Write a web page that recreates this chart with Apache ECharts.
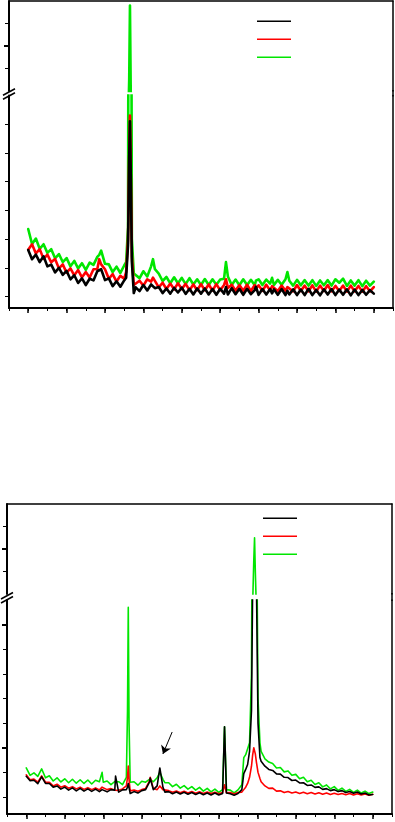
<!DOCTYPE html>
<html><head><meta charset="utf-8">
<script src="https://cdn.jsdelivr.net/npm/echarts@6/dist/echarts.min.js"></script>
<style>html,body{margin:0;padding:0;background:#fff}#c{width:395px;height:822px}</style>
</head><body><div id="c"></div><script>
// ---------- data ----------
const SERIES_NAMES = ['S1', 'S2', 'S3'];           // black, red, green (legend order)
const SERIES_COLORS = ['#000000', '#ff0000', '#00e600'];

// x positions (arbitrary units, axis 0..100)
const X_MIN = 0, X_MAX = 100, X_MINOR_STEP = 5;
const X_MAJOR_TICKS = [5, 15, 25, 35, 45, 55, 65, 75, 85, 95];

// ----- panel 1 -----
const P1_X = [
  5, 6, 7, 8, 9, 10, 11, 12, 13, 14,
  15, 16, 17, 18, 19, 20, 21, 22, 23, 23.5,
  24, 25, 26, 27, 28, 29, 30, 30.5,
  31, 31.3, 31.5, 31.7, 32, 32.5,
  33, 34, 35, 36, 37, 37.5, 38, 39, 40, 41,
  42, 43, 44, 45, 46, 47, 48, 49, 50, 51,
  52, 53, 54, 55, 56, 56.5, 57, 58, 59, 60,
  61, 62, 63, 64, 64.3, 65, 66, 67, 68, 68.5,
  69, 70, 71, 72, 72.5, 73, 74, 75, 76, 77,
  78, 79, 80, 81, 82, 83, 84, 85, 86, 87,
  88, 89, 90, 91, 92, 93, 94, 95
];
const P1_BLACK = [
  1.62, 1.30, 1.46, 1.20, 1.40, 1.05, 1.11, 0.84, 1.00, 0.75,
  0.89, 0.60, 0.74, 0.47, 0.63, 0.40, 0.62, 0.56, 0.88, 0.90,
  0.95, 0.57, 0.63, 0.36, 0.53, 0.34, 0.56, 0.65,
  1.8, 4.8, 6.1, 4.3, 1.2, 0.12,
  0.32, 0.19, 0.40, 0.21, 0.42, 0.42, 0.29, 0.33, 0.12, 0.28,
  0.10, 0.30, 0.14, 0.31, 0.09, 0.27, 0.07, 0.28, 0.10, 0.28,
  0.07, 0.26, 0.06, 0.27, 0.10, 0.33, 0.07, 0.29, 0.08, 0.27,
  0.06, 0.27, 0.08, 0.22, 0.34, 0.06, 0.26, 0.07, 0.26, 0.11,
  0.25, 0.06, 0.26, 0.05, 0.20, 0.07, 0.25, 0.05, 0.24, 0.05,
  0.27, 0.05, 0.23, 0.04, 0.25, 0.07, 0.26, 0.05, 0.24, 0.06,
  0.25, 0.04, 0.24, 0.05, 0.23, 0.06, 0.22, 0.10
];
const P1_RED = [
  1.63, 1.82, 1.50, 1.65, 1.31, 1.46, 1.19, 1.31, 0.98, 1.12,
  0.83, 0.98, 0.74, 0.92, 0.67, 0.85, 0.66, 0.95, 0.96, 1.30,
  1.12, 0.95, 0.62, 0.78, 0.52, 0.72, 0.62, 0.85,
  2.0, 5.0, 6.3, 4.5, 1.4, 0.4,
  0.34, 0.55, 0.38, 0.60, 0.52, 0.66, 0.61, 0.32, 0.48, 0.26,
  0.45, 0.25, 0.46, 0.26, 0.44, 0.22, 0.42, 0.22, 0.43, 0.22,
  0.42, 0.21, 0.43, 0.22, 0.40, 0.60, 0.30, 0.41, 0.20, 0.40,
  0.20, 0.41, 0.19, 0.40, 0.27, 0.39, 0.20, 0.41, 0.21, 0.36,
  0.40, 0.19, 0.38, 0.20, 0.33, 0.39, 0.18, 0.40, 0.19, 0.38,
  0.18, 0.39, 0.17, 0.38, 0.19, 0.40, 0.18, 0.37, 0.19, 0.38,
  0.17, 0.38, 0.18, 0.37, 0.17, 0.36, 0.18, 0.33
];
const P1_GREEN = [
  2.35, 1.83, 2.02, 1.66, 1.82, 1.52, 1.65, 1.33, 1.48, 1.20,
  1.34, 1.05, 1.24, 0.98, 1.16, 0.93, 1.18, 1.10, 1.38, 1.45,
  1.60, 1.14, 1.12, 0.85, 1.04, 0.82, 1.08, 1.20,
  2.4, 25, 58, 20, 2.0, 0.8,
  0.85, 0.64, 0.88, 0.70, 1.05, 1.30, 0.95, 0.80, 0.54, 0.68,
  0.46, 0.67, 0.46, 0.65, 0.43, 0.64, 0.42, 0.60, 0.40, 0.61,
  0.40, 0.60, 0.41, 0.59, 0.62, 1.20, 0.70, 0.40, 0.59, 0.39,
  0.60, 0.40, 0.58, 0.39, 0.55, 0.60, 0.40, 0.59, 0.45, 0.65,
  0.40, 0.58, 0.41, 0.60, 0.85, 0.55, 0.38, 0.58, 0.39, 0.57,
  0.38, 0.57, 0.37, 0.56, 0.39, 0.57, 0.38, 0.60, 0.48, 0.62,
  0.37, 0.56, 0.38, 0.57, 0.36, 0.55, 0.38, 0.52
];

// ----- panel 2 -----
const P2_X = [
  5, 6, 7, 8, 9, 10, 11, 12, 13, 14,
  15, 16, 17, 18, 19, 20, 21, 22, 23, 24,
  24.7, 25, 26, 27, 28, 28.2, 29, 30, 31, 31.3,
  31.5, 31.7, 32, 33, 34, 35, 36, 37, 37.2, 38,
  39, 39.7, 40.5, 41, 42, 43, 44, 45, 46, 47,
  48, 49, 50, 51, 52, 53, 54, 55, 56, 56.5,
  57, 58, 59, 60, 61, 61.5, 62, 62.5, 63, 63.5,
  63.8, 64.1, 64.3, 64.5, 64.8, 65.2, 65.7, 66, 67, 68,
  69, 70, 71, 72, 73, 74, 75, 76, 77, 78,
  79, 80, 81, 82, 83, 84, 85, 86, 87, 88,
  89, 90, 91, 92, 93, 94, 95
];
const P2_BLACK = [
  0.84, 0.66, 0.68, 0.54, 0.82, 0.55, 0.55, 0.40, 0.45, 0.32,
  0.40, 0.28, 0.37, 0.25, 0.35, 0.24, 0.33, 0.23, 0.32, 0.22,
  0.30, 0.32, 0.21, 0.30, 0.28, 0.85, 0.20, 0.29, 0.30, 0.40,
  0.55, 0.38, 0.14, 0.22, 0.16, 0.26, 0.30, 0.60, 0.77, 0.30,
  0.45, 1.18, 0.40, 0.20, 0.22, 0.13, 0.20, 0.12, 0.19, 0.11,
  0.18, 0.10, 0.17, 0.09, 0.16, 0.08, 0.16, 0.08, 0.14, 2.85,
  0.16, 0.13, 0.07, 0.14, 0.30, 0.95, 1.12, 1.32, 1.85, 3.5,
  8.5, 13, 14, 12, 8.5, 3.0, 1.6, 1.45, 1.25, 1.12,
  1.08, 0.94, 0.93, 0.80, 0.79, 0.67, 0.69, 0.57, 0.58, 0.47,
  0.49, 0.39, 0.41, 0.31, 0.34, 0.26, 0.30, 0.22, 0.26, 0.18,
  0.22, 0.15, 0.20, 0.12, 0.16, 0.08, 0.10
];
const P2_RED = [
  0.90, 0.70, 0.73, 0.60, 0.86, 0.60, 0.60, 0.45, 0.52, 0.40,
  0.46, 0.36, 0.42, 0.33, 0.40, 0.31, 0.38, 0.30, 0.37, 0.29,
  0.40, 0.35, 0.30, 0.34, 0.28, 0.33, 0.27, 0.33, 0.45, 0.80,
  1.26, 0.70, 0.25, 0.28, 0.23, 0.30, 0.35, 0.65, 0.80, 0.35,
  0.30, 0.45, 0.30, 0.25, 0.26, 0.19, 0.24, 0.17, 0.23, 0.16,
  0.22, 0.15, 0.21, 0.14, 0.20, 0.14, 0.19, 0.13, 0.18, 0.50,
  0.17, 0.18, 0.12, 0.18, 0.20, 0.30, 0.40, 0.55, 0.80, 1.25,
  1.70, 2.00, 1.95, 1.75, 1.40, 1.00, 0.75, 0.62, 0.45, 0.35,
  0.36, 0.24, 0.25, 0.18, 0.22, 0.16, 0.20, 0.14, 0.19, 0.13,
  0.18, 0.12, 0.17, 0.11, 0.16, 0.10, 0.15, 0.10, 0.14, 0.09,
  0.14, 0.08, 0.13, 0.08, 0.12, 0.07, 0.11
];
const P2_GREEN = [
  1.18, 0.88, 0.98, 0.84, 1.14, 0.78, 0.86, 0.65, 0.78, 0.61,
  0.74, 0.58, 0.72, 0.56, 0.70, 0.55, 0.69, 0.53, 0.68, 0.62,
  1.00, 0.60, 0.65, 0.50, 0.63, 0.55, 0.62, 0.50, 0.80, 3.50,
  7.70, 3.00, 0.60, 0.62, 0.48, 0.64, 0.60, 0.72, 0.74, 0.62,
  0.78, 1.00, 0.72, 0.58, 0.58, 0.42, 0.52, 0.36, 0.46, 0.32,
  0.42, 0.28, 0.39, 0.24, 0.35, 0.21, 0.32, 0.19, 0.30, 2.85,
  0.30, 0.28, 0.17, 0.29, 0.50, 1.60, 1.72, 1.75, 2.20, 5.00,
  15, 35, 45, 30, 12, 4.0, 2.2, 1.85, 1.55, 1.42,
  1.36, 1.18, 1.20, 1.02, 1.06, 0.88, 0.92, 0.74, 0.80, 0.62,
  0.68, 0.51, 0.58, 0.41, 0.49, 0.33, 0.42, 0.27, 0.36, 0.23,
  0.31, 0.19, 0.28, 0.16, 0.24, 0.14, 0.20
];
// arrow annotation in panel 2: [from, to] in data units
const ARROW_P2 = [[42.9, 2.64], [40.5, 1.75]];

// y scales of the broken axes
const UPPER_RANGE = [20, 60];
const UPPER_TICKS = [30, 40, 50];
const UPPER_MAJOR_TICKS = [40];
const P1_LOWER_RANGE = [-0.4, 7];
const P1_LOWER_TICKS = [0, 1, 2, 3, 4, 5, 6];
const P2_LOWER_RANGE = [-0.69, 8];
const P2_LOWER_TICKS = [0, 1, 2, 3, 4, 5, 6, 7];
const P2_LOWER_MAJOR_TICKS = [2, 7];

// sanity check
[[P1_X, P1_BLACK, P1_RED, P1_GREEN], [P2_X, P2_BLACK, P2_RED, P2_GREEN]].forEach((g, k) => {
  g.forEach((a, i) => { if (a.length !== g[0].length) throw new Error('len mismatch panel ' + (k + 1) + ' arr ' + i + ': ' + a.length + ' vs ' + g[0].length); });
});

// ---------- layout ----------
const W = 395;
const L1 = { left: 9, right: 2, upTop: 1, upH: 90, loTop: 95.5, loH: 212.5, lw: 2.6 };
const L2 = { left: 7, right: 3, upTop: 504, upH: 90, loTop: 600, loH: 214, lw: 1.6 };

function pairs(xs, ys) { return xs.map((x, i) => [x, ys[i]]); }

const grids = [];
const xAxes = [];
const yAxes = [];
const series = [];
const graphics = [];

const OFF = { show: false };
function axisLine(w) { return { show: true, onZero: false, lineStyle: { color: '#000', width: w } }; }
function ticks(len, w, vals) {
  const t = { show: true, length: len, lineStyle: { color: '#000', width: w } };
  if (vals) t.customValues = vals;
  return t;
}

function buildPanel(L, xs, ysByColor, lowerRange, lowerTicks, lowerMajors) {
  const g0 = grids.length;
  grids.push({ left: L.left, right: L.right, top: L.upTop, height: L.upH });   // upper part
  grids.push({ left: L.left, right: L.right, top: L.loTop, height: L.loH });   // lower part

  // x axes
  const xu = xAxes.length;
  xAxes.push({ gridIndex: g0, type: 'value', min: X_MIN, max: X_MAX, position: 'top',
    axisLine: axisLine(1.5), axisTick: OFF, axisLabel: OFF, splitLine: OFF });
  const xl = xAxes.length;
  xAxes.push({ gridIndex: g0 + 1, type: 'value', min: X_MIN, max: X_MAX, interval: X_MINOR_STEP, position: 'bottom',
    axisLine: axisLine(2), axisTick: ticks(3, 1), axisLabel: OFF, splitLine: OFF });
  xAxes.push({ gridIndex: g0 + 1, type: 'value', min: X_MIN, max: X_MAX, position: 'bottom', offset: 0,
    axisLine: { show: false, onZero: false }, axisTick: ticks(5, 1.5, X_MAJOR_TICKS), axisLabel: OFF, splitLine: OFF });

  // y axes, upper part
  const yu = yAxes.length;
  yAxes.push({ gridIndex: g0, type: 'value', min: UPPER_RANGE[0], max: UPPER_RANGE[1], position: 'left',
    axisLine: axisLine(2), axisTick: ticks(4, 1, UPPER_TICKS), axisLabel: OFF, splitLine: OFF });
  yAxes.push({ gridIndex: g0, type: 'value', min: UPPER_RANGE[0], max: UPPER_RANGE[1], position: 'left', offset: 0,
    axisLine: { show: false, onZero: false }, axisTick: ticks(5, 2, UPPER_MAJOR_TICKS), axisLabel: OFF, splitLine: OFF });
  yAxes.push({ gridIndex: g0, type: 'value', min: UPPER_RANGE[0], max: UPPER_RANGE[1], position: 'right', offset: 0,
    axisLine: axisLine(1.5), axisTick: OFF, axisLabel: OFF, splitLine: OFF });
  // y axes, lower part
  const yl = yAxes.length;
  yAxes.push({ gridIndex: g0 + 1, type: 'value', min: lowerRange[0], max: lowerRange[1], position: 'left',
    axisLine: axisLine(2), axisTick: ticks(4, 1, lowerTicks), axisLabel: OFF, splitLine: OFF });
  if (lowerMajors) {
    yAxes.push({ gridIndex: g0 + 1, type: 'value', min: lowerRange[0], max: lowerRange[1], position: 'left', offset: 0,
      axisLine: { show: false, onZero: false }, axisTick: ticks(5, 2, lowerMajors), axisLabel: OFF, splitLine: OFF });
  }
  yAxes.push({ gridIndex: g0 + 1, type: 'value', min: lowerRange[0], max: lowerRange[1], position: 'right', offset: 0,
    axisLine: axisLine(1.5), axisTick: OFF, axisLabel: OFF, splitLine: OFF });

  // draw order: green, red, black (black on top)
  const order = [2, 1, 0];
  const out = {};
  [[xu, yu], [xl, yl]].forEach(([xi, yi], part) => {
    order.forEach(ci => {
      const s = {
        type: 'line', name: SERIES_NAMES[ci], xAxisIndex: xi, yAxisIndex: yi,
        data: pairs(xs, ysByColor[ci]), showSymbol: false, symbol: 'none',
        lineStyle: { color: SERIES_COLORS[ci], width: L.lw, join: 'round', cap: 'round' }, itemStyle: { color: SERIES_COLORS[ci] },
        clip: true, silent: true, z: 2 + (2 - ci)
      };
      series.push(s);
      if (part === 1 && ci === 0) out.lowerBlack = s;
    });
  });

  // break marks on the left axis and continuous right frame edge across the gap
  const upBottom = L.upTop + L.upH;
  const mid = (upBottom + L.loTop) / 2;
  [[-6, 2, 6, -4.5], [-6, 6, 6, -0.5]].forEach(([x1, y1, x2, y2]) => {
    graphics.push({ type: 'line', shape: { x1: L.left + x1, y1: mid + y1, x2: L.left + x2, y2: mid + y2 },
      style: { stroke: '#000', lineWidth: 1.5 }, z: 100 });
  });
  const xr = W - L.right;
  graphics.push({ type: 'line', shape: { x1: xr, y1: upBottom - 1, x2: xr, y2: L.loTop + 1 },
    style: { stroke: '#000', lineWidth: 1.5 }, z: 100 });
  return out;
}

buildPanel(L1, P1_X, [P1_BLACK, P1_RED, P1_GREEN], P1_LOWER_RANGE, P1_LOWER_TICKS, null);
const p2 = buildPanel(L2, P2_X, [P2_BLACK, P2_RED, P2_GREEN], P2_LOWER_RANGE, P2_LOWER_TICKS, P2_LOWER_MAJOR_TICKS);
p2.lowerBlack.markLine = {
  silent: true, symbol: ['none', 'arrow'], symbolSize: 8,
  label: { show: false },
  itemStyle: { color: '#000' },
  lineStyle: { color: '#000', width: 1, type: 'solid' },
  data: [[{ coord: ARROW_P2[0] }, { coord: ARROW_P2[1] }]]
};

function legend(left, top) {
  return { left: left, top: top, orient: 'vertical', icon: 'rect', itemWidth: 34, itemHeight: 1.5,
    itemGap: 16.5, selectedMode: false, data: SERIES_NAMES, formatter: () => '',
    textStyle: { fontSize: 1, lineHeight: 1 }, padding: 0 };
}

const chart = echarts.init(document.getElementById('c'), null, { renderer: 'canvas' });
chart.setOption({
  animation: false,
  backgroundColor: '#fff',
  grid: grids,
  xAxis: xAxes,
  yAxis: yAxes,
  legend: [legend(257, 20.5), legend(263, 517.5)],
  graphic: graphics,
  series: series
});
</script></body></html>
